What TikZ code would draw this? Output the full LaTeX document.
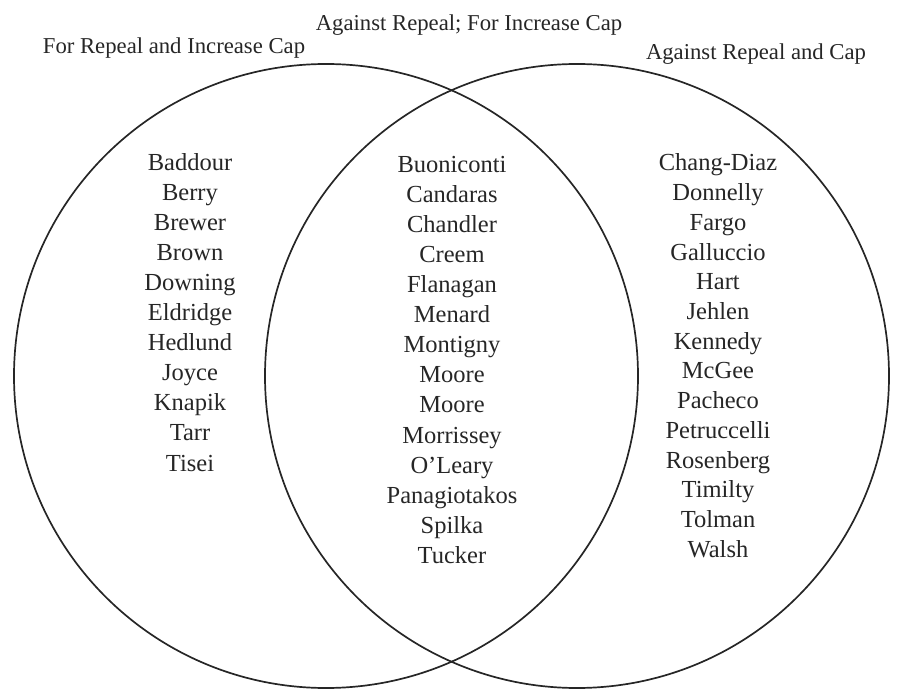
\documentclass[tikz,border=0pt]{standalone}
\usepackage{fontspec}
\setmainfont{Liberation Serif}
\begin{document}
\begin{tikzpicture}[x=1pt,y=-1pt,
  ring/.style={circle,draw=black!85,line width=1.7pt,inner sep=0pt,minimum size=624pt},
  head/.style={anchor=base,text=black!85,font=\fontsize{22.7}{26}\selectfont,inner sep=0pt},
  who/.style={anchor=base,text=black!85,font=\fontsize{24.5}{30}\selectfont,inner sep=0pt}]
\useasboundingbox (0,0) rectangle (897,692);
\node[ring] (L) at (326,376) {};
\node[ring] (R) at (577,376) {};
\node[head] (hL) at (174,54) {For Repeal and Increase Cap};
\node[head] (hM) at (469,31) {Against Repeal; For Increase Cap};
\node[head] (hR) at (756,60) {Against Repeal and Cap};
\foreach \n [count=\i] in {Baddour,Berry,Brewer,Brown,Downing,Eldridge,Hedlund,Joyce,Knapik,Tarr,Tisei}
  \node[who] (l\i) at (190,{171+30*(\i-1)}) {\n};
\foreach \n [count=\i] in {Buoniconti,Candaras,Chandler,Creem,Flanagan,Menard,Montigny,Moore,Moore,Morrissey,O’Leary,Panagiotakos,Spilka,Tucker}
  \node[who] (m\i) at (452,{173+30*(\i-1)}) {\n};
\foreach \n [count=\i] in {Chang-Diaz,Donnelly,Fargo,Galluccio,Hart,Jehlen,Kennedy,McGee,Pacheco,Petruccelli,Rosenberg,Timilty,Tolman,Walsh}
  \node[who] (r\i) at (718,{171+29.7*(\i-1)}) {\n};
\end{tikzpicture}
\end{document}
